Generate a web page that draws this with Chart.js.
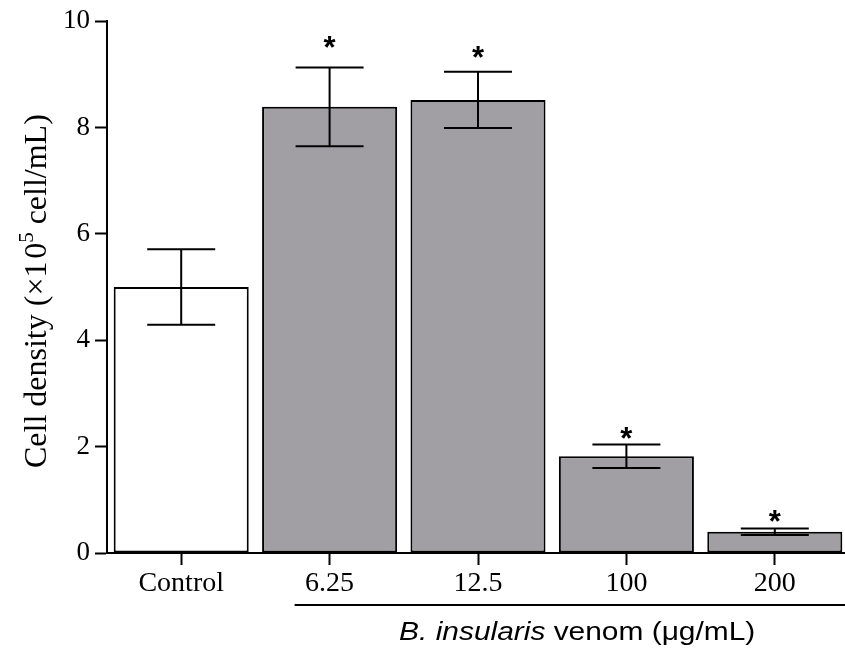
<!DOCTYPE html>
<html>
<head>
<meta charset="utf-8">
<script src="https://cdn.jsdelivr.net/npm/chart.js@4"></script>
<style>
  html, body { margin: 0; padding: 0; background: #fff; overflow: hidden; }
  #wrap { width: 860px; height: 657px; }
</style>
</head>
<body>
<div id="wrap"><canvas id="chart"></canvas></div>
<script>
const categories = ['Control', '6.25', '12.5', '100', '200'];
const density = [5.0, 8.39, 8.52, 1.82, 0.40];
const sem = [0.71, 0.74, 0.53, 0.22, 0.06];
const starAt = [null, 9.61, 9.43, 2.25, 0.69];
const yTicks = [0, 2, 4, 6, 8, 10];
const barColors = ['#ffffff', '#a19fa4', '#a19fa4', '#a19fa4', '#a19fa4'];

const serif = "'Liberation Serif', 'Times New Roman', serif";
const sans = "'Liberation Sans', Arial, sans-serif";

// error bars, asterisks, bracket and axis titles
const extras = {
  id: 'extras',
  afterDatasetsDraw(chart) {
    const ctx = chart.ctx;
    const x = chart.scales.x, y = chart.scales.y;
    const bars = chart.getDatasetMeta(0).data;
    const area = chart.chartArea;
    ctx.save();
    ctx.strokeStyle = '#000';
    ctx.fillStyle = '#000';
    ctx.lineWidth = 2;

    bars.forEach((bar, i) => {
      const cx = bar.x;
      const top = y.getPixelForValue(density[i] + sem[i]);
      const bot = y.getPixelForValue(density[i] - sem[i]);
      ctx.beginPath();
      ctx.moveTo(cx, top); ctx.lineTo(cx, bot);
      ctx.moveTo(cx - 34, top); ctx.lineTo(cx + 34, top);
      ctx.moveTo(cx - 34, bot); ctx.lineTo(cx + 34, bot);
      ctx.stroke();

      if (starAt[i] != null) {
        ctx.font = 'bold 31px ' + sans;
        ctx.textAlign = 'center';
        ctx.textBaseline = 'alphabetic';
        const m = ctx.measureText('*');
        const sy = y.getPixelForValue(starAt[i]);
        ctx.fillText('*', cx, sy + (m.actualBoundingBoxAscent - m.actualBoundingBoxDescent) / 2);
      }
    });

    // bracket under the venom doses
    const lineY = area.bottom + 52;
    ctx.beginPath();
    ctx.moveTo(x.getPixelForValue(1) - 35, lineY);
    ctx.lineTo(area.right, lineY);
    ctx.stroke();

    // x title
    const tx = (x.getPixelForValue(1) + x.getPixelForValue(4)) / 2 + 25;
    const ty = area.bottom + 87;
    const parts = [
      { t: 'B. insularis', f: 'italic 26px ' + sans },
      { t: ' venom (\u03bcg/mL)', f: '26px ' + sans }
    ];
    let w = 0;
    parts.forEach(p => { ctx.font = p.f; p.w = ctx.measureText(p.t).width; w += p.w; });
    ctx.save();
    ctx.translate(tx, ty);
    ctx.scale(1.15, 1);
    ctx.textAlign = 'left';
    ctx.textBaseline = 'alphabetic';
    let px = -w / 2;
    parts.forEach(p => { ctx.font = p.f; ctx.fillText(p.t, px, 0); px += p.w; });
    ctx.restore();

    // y title with superscript
    const ycx = (area.top + area.bottom) / 2 + 4;
    const yparts = [
      { t: 'Cell density (\u00d71\u200a0', f: '32px ' + serif, dy: 0 },
      { t: '5', f: '21px ' + serif, dy: -13 },
      { t: ' cell/mL)', f: '32px ' + serif, dy: 0 }
    ];
    let yw = 0;
    yparts.forEach(p => { ctx.font = p.f; p.w = ctx.measureText(p.t).width; yw += p.w; });
    ctx.save();
    ctx.translate(46, ycx);
    ctx.rotate(-Math.PI / 2);
    ctx.textAlign = 'left';
    ctx.textBaseline = 'alphabetic';
    let qx = -yw / 2;
    yparts.forEach(p => { ctx.font = p.f; ctx.fillText(p.t, qx, p.dy); qx += p.w; });
    ctx.restore();

    ctx.restore();
  }
};

new Chart(document.getElementById('chart'), {
  type: 'bar',
  data: {
    labels: categories,
    datasets: [{
      data: density,
      backgroundColor: barColors,
      borderColor: '#000',
      borderWidth: 2,
      borderSkipped: false,
      barPercentage: 0.91,
      categoryPercentage: 1.0
    }]
  },
  options: {
    responsive: true,
    maintainAspectRatio: false,
    animation: false,
    layout: { padding: { top: 18, right: 11, left: 0, bottom: 0 } },
    plugins: {
      legend: { display: false },
      tooltip: { enabled: false }
    },
    scales: {
      x: {
        grid: { display: true, drawOnChartArea: false, drawTicks: true, tickLength: 12, tickWidth: 2, color: '#000', offset: false },
        border: { display: true, color: '#000', width: 2 },
        ticks: { color: '#000', font: { family: serif, size: 28 }, padding: 2, maxRotation: 0 },
        afterFit(scale) { scale.height = 104; }
      },
      y: {
        min: 0,
        max: 10,
        afterBuildTicks(scale) { scale.ticks = yTicks.map(v => ({ value: v })); },
        grid: { display: true, drawOnChartArea: false, drawTicks: true, tickLength: 12, tickWidth: 2, color: '#000' },
        border: { display: true, color: '#000', width: 2 },
        ticks: { color: '#000', font: { family: serif, size: 27 }, padding: 5 },
        afterFit(scale) { scale.width = 107; }
      }
    }
  },
  plugins: [extras]
});
</script>
</body>
</html>
